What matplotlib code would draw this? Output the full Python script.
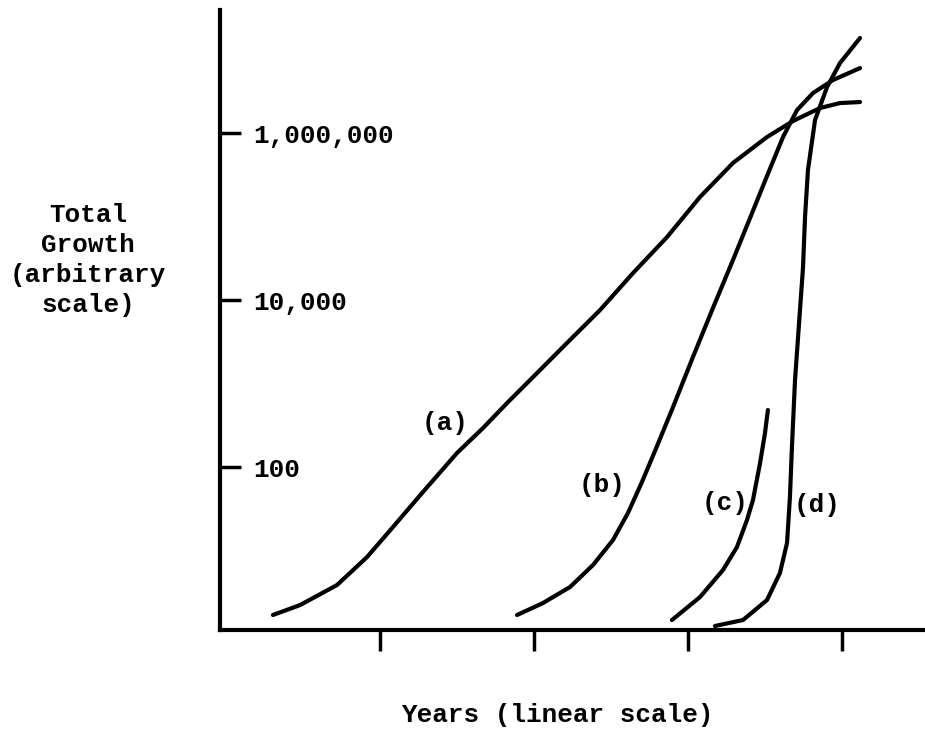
import numpy as np
import matplotlib.pyplot as plt

# years (linear scale, tick marks at 1..4) and log10 of total growth
a_years = [0.305, 0.481, 0.721, 0.916, 1.084, 1.279, 1.500, 1.669, 1.825, 1.994, 2.214,
           2.429, 2.643, 2.864, 3.078, 3.292, 3.513, 3.682, 3.857, 3.987, 4.117]
a_logs = [0.228, 0.347, 0.587, 0.922, 1.281, 1.701, 2.168, 2.467, 2.766, 3.078, 3.485,
          3.880, 4.323, 4.754, 5.234, 5.641, 5.952, 6.144, 6.299, 6.359, 6.371]

b_years = [1.890, 2.058, 2.234, 2.383, 2.513, 2.610, 2.701, 2.799, 2.903, 3.032,
           3.162, 3.292, 3.403, 3.513, 3.617, 3.708, 3.812, 3.942, 4.117]
b_logs = [0.228, 0.371, 0.563, 0.826, 1.126, 1.449, 1.820, 2.251, 2.719, 3.317,
          3.904, 4.479, 4.982, 5.485, 5.952, 6.275, 6.479, 6.635, 6.778]

c_years = [2.896, 3.078, 3.227, 3.318, 3.383, 3.422, 3.468, 3.500, 3.519]
c_logs = [0.168, 0.443, 0.766, 1.042, 1.365, 1.605, 2.048, 2.407, 2.683]

d_years = [3.175, 3.357, 3.513, 3.597, 3.643, 3.662, 3.675, 3.695, 3.747, 3.760,
           3.779, 3.825, 3.903, 3.987, 4.117]
d_logs = [0.096, 0.168, 0.407, 0.731, 1.090, 1.641, 2.240, 3.042, 4.395, 4.994,
          5.557, 6.156, 6.551, 6.838, 7.138]

curve_labels = ["(a)", "(b)", "(c)", "(d)"]
label_pos = [(1.42, 2.53), (2.44, 1.78), (3.24, 1.57), (3.84, 1.55)]  # (year, log10 growth)

y_ticks = [100, 10000, 1000000]
y_tick_labels = ["100", "10,000", "1,000,000"]
x_ticks = [1, 2, 3, 4]

font = {"family": "Liberation Mono", "weight": "bold", "size": 18.7}

fig = plt.figure(figsize=(9.25, 7.32), dpi=100)
ax = fig.add_axes([0.2378, 0.1393, 0.7622, 0.847])

for years, logs in [(a_years, a_logs), (b_years, b_logs), (c_years, c_logs), (d_years, d_logs)]:
    ax.plot(years, 10 ** np.array(logs), color="black", lw=3.0,
            solid_capstyle="round", solid_joinstyle="round")

for text, (x, lg) in zip(curve_labels, label_pos):
    ax.text(x, 10 ** lg, text, ha="center", va="center", fontdict=font)

ax.set_yscale("log")
ax.set_xlim(-0.039, 4.539)
ax.set_ylim(10 ** 0.048, 10 ** 7.473)

ax.spines["top"].set_visible(False)
ax.spines["right"].set_visible(False)
for side in ["left", "bottom"]:
    ax.spines[side].set_linewidth(3.0)

ax.set_xticks(x_ticks)
ax.set_xticklabels([])
ax.tick_params(axis="x", direction="out", length=15, width=2.5)

ax.set_yticks(y_ticks)
ax.set_yticklabels(y_tick_labels)
ax.yaxis.set_minor_locator(plt.NullLocator())
ax.tick_params(axis="y", direction="in", length=15, width=2.5, pad=-24)
for lbl in ax.get_yticklabels():
    lbl.set_ha("left")
    lbl.set_fontproperties("Liberation Mono")
    lbl.set_fontweight("bold")
    lbl.set_fontsize(18.7)

ax.set_xlabel("Years (linear scale)", fontdict=font, va="center")
ax.xaxis.set_label_coords((557 - 220) / 705, (630 - 715) / 620)

ax.set_ylabel("Total\nGrowth\n(arbitrary\nscale)", fontdict=font, rotation=0,
              ha="center", va="center", linespacing=1.3)
ax.yaxis.set_label_coords((88 - 220) / 705, (630 - 260) / 620)

fig.savefig("out.png", dpi=100)
